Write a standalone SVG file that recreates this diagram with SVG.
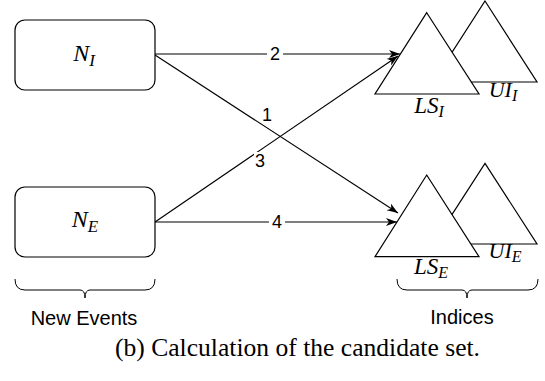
<svg xmlns="http://www.w3.org/2000/svg" width="545" height="381" viewBox="0 0 545 381">
<style>
.box{fill:#fff;stroke:#000;stroke-width:1.2}
.tri{fill:#fff;stroke:#000;stroke-width:1.2}
.edge{fill:none;stroke:#000;stroke-width:1.2}
.brace{fill:none;stroke:#000;stroke-width:1}
.math{font-family:"Liberation Serif",serif;font-style:italic;fill:#000}
.sans{font-family:"Liberation Sans",Arial,sans-serif;fill:#000}
.lbl{font-family:"Liberation Sans",Arial,sans-serif;font-size:18px;fill:#000;text-anchor:middle}
.cap{font-family:"Liberation Serif",serif;font-size:26px;fill:#000}
</style>
<defs>
<marker id="arr" markerUnits="userSpaceOnUse" markerWidth="12" markerHeight="10" refX="11" refY="4" orient="auto">
<path d="M0,0 L11,4 L0,8 L3,4 Z" fill="#000"/>
</marker>
</defs>
<rect width="545" height="381" fill="#fff"/>

<g id="connectors">
<line class="edge" x1="155" y1="54" x2="400" y2="54" marker-end="url(#arr)"/>
<line class="edge" x1="155" y1="55" x2="398" y2="213" marker-end="url(#arr)"/>
<line class="edge" x1="155" y1="222" x2="398" y2="56" marker-end="url(#arr)"/>
<line class="edge" x1="155" y1="222" x2="397" y2="222" marker-end="url(#arr)"/>
<rect x="267" y="44" width="16" height="20" fill="#fff"/>
<text class="lbl" x="275" y="60">2</text>
<rect x="269" y="212" width="16" height="20" fill="#fff"/>
<text class="lbl" x="277" y="228">4</text>
<text class="lbl" x="267" y="121">1</text>
<rect x="254" y="152" width="12" height="16" fill="#fff"/>
<text class="lbl" x="260" y="167">3</text>
</g>

<g id="NI">
<rect class="box" x="15" y="20" width="140" height="70" rx="10" ry="10"/>
<text class="math" x="84" y="61" text-anchor="middle" font-size="24">N<tspan font-size="17" dy="5">I</tspan></text>
</g>

<g id="NE">
<rect class="box" x="15" y="187" width="140" height="70" rx="10" ry="10"/>
<text class="math" x="85" y="227" text-anchor="middle" font-size="24">N<tspan font-size="17" dy="5">E</tspan></text>
</g>

<g id="UI_I">
<polygon class="tri" points="485,1 537,82 433,82"/>
<text class="math" x="503" y="97" text-anchor="middle" font-size="22">UI<tspan font-size="16" dy="4">I</tspan></text>
</g>
<g id="LS_I">
<polygon class="tri" points="426.7,12.7 479,94 375,94"/>
<text class="math" x="429" y="113" text-anchor="middle" font-size="23">LS<tspan font-size="16" dy="4">I</tspan></text>
</g>

<g id="UI_E">
<polygon class="tri" points="485,163.3 537,244 433,244"/>
<text class="math" x="505" y="258" text-anchor="middle" font-size="22">UI<tspan font-size="16" dy="4">E</tspan></text>
</g>
<g id="LS_E">
<polygon class="tri" points="426.7,175 479,256.7 375,256.7"/>
<text class="math" x="431" y="274" text-anchor="middle" font-size="23">LS<tspan font-size="16" dy="4">E</tspan></text>
</g>

<g id="newEventsBrace">
<path class="brace" d="M15,279 Q15,290 25,290 L80,290 Q85,290 85,298 Q85,290 90,290 L145,290 Q155,290 155,279"/>
<text class="sans" x="84" y="325" text-anchor="middle" font-size="20">New Events</text>
</g>

<g id="indicesBrace">
<path class="brace" d="M397,279 Q397,290 407,290 L462,290 Q467,290 467,298 Q467,290 472,290 L528,290 Q538,290 538,279"/>
<text class="sans" x="462" y="324" text-anchor="middle" font-size="20">Indices</text>
</g>

<text class="cap" x="115" y="356" textLength="365" lengthAdjust="spacingAndGlyphs">(b) Calculation of the candidate set.</text>
</svg>
